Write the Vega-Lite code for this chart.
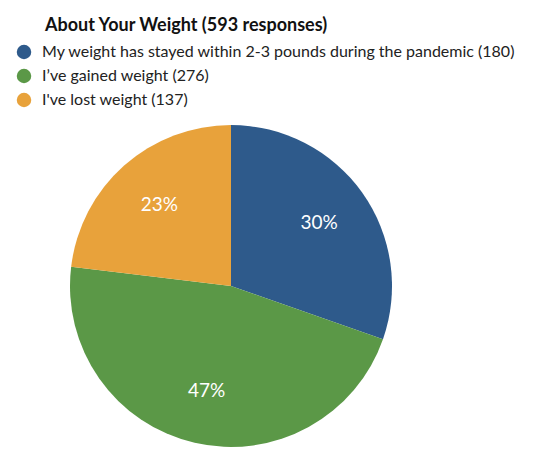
{
  "$schema": "https://vega.github.io/schema/vega-lite/v6.json",
  "autosize": {"type": "none"},
  "width": 462,
  "height": 322,
  "padding": {"left": 0, "top": 125, "right": 88, "bottom": 21},
  "background": "white",
  "title": {
    "text": "About Your Weight (593 responses)",
    "anchor": "start",
    "frame": "group",
    "dx": 45,
    "offset": 9,
    "font": "Lato",
    "fontSize": 18,
    "fontWeight": "bold",
    "color": "#111111"
  },
  "data": {
    "values": [
      {"answer": "My weight has stayed within 2-3 pounds during the pandemic (180)", "responses": 180, "rank": 1},
      {"answer": "I’ve gained weight (276)", "responses": 276, "rank": 2},
      {"answer": "I've lost weight (137)", "responses": 137, "rank": 3}
    ]
  },
  "transform": [
    {"joinaggregate": [{"op": "sum", "field": "responses", "as": "total"}]},
    {"calculate": "datum.responses / datum.total", "as": "share"}
  ],
  "encoding": {
    "theta": {"field": "responses", "type": "quantitative", "stack": true},
    "order": {"field": "rank", "type": "quantitative"},
    "color": {
      "field": "answer",
      "type": "nominal",
      "sort": {"field": "rank"},
      "title": null,
      "scale": {
        "domain": [
          "My weight has stayed within 2-3 pounds during the pandemic (180)",
          "I’ve gained weight (276)",
          "I've lost weight (137)"
        ],
        "range": ["#2E5A8B", "#5B9847", "#E8A23B"]
      },
      "legend": {
        "orient": "none",
        "legendX": 16,
        "legendY": -81,
        "symbolType": "circle",
        "symbolSize": 210,
        "symbolStrokeWidth": 0,
        "labelFont": "Lato",
        "labelFontSize": 16,
        "labelColor": "#222222",
        "labelLimit": 600,
        "labelOffset": 10,
        "rowPadding": 8,
        "padding": 0
      }
    }
  },
  "layer": [
    {"mark": {"type": "arc", "outerRadius": 161}},
    {
      "mark": {"type": "text", "radius": 108, "font": "Lato", "fontSize": 19},
      "encoding": {
        "text": {"field": "share", "type": "quantitative", "format": ".0%"},
        "color": {"value": "white"}
      }
    }
  ],
  "config": {
    "view": {"stroke": null}
  }
}
